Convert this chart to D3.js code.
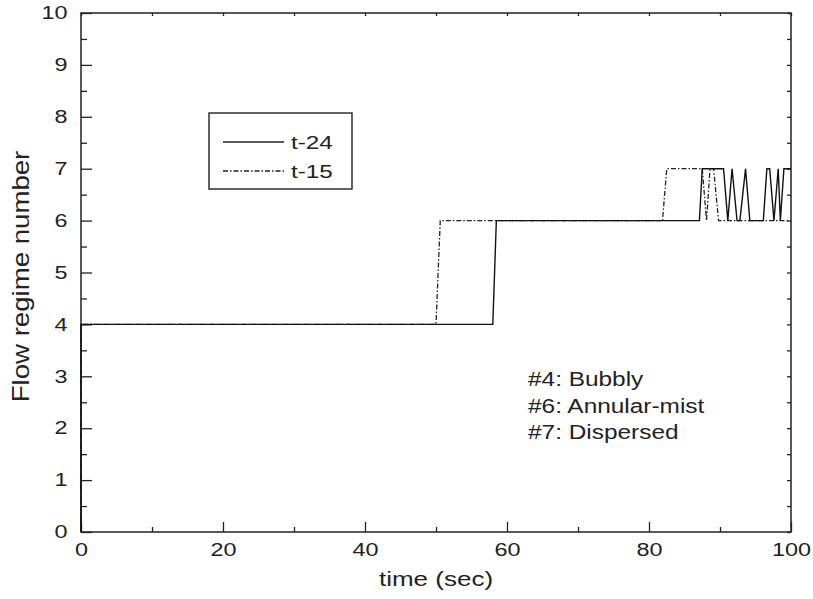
<!DOCTYPE html>
<html>
<head>
<meta charset="utf-8">
<script src="https://cdn.jsdelivr.net/npm/d3@7"></script>
<style>
html,body{margin:0;padding:0;background:#fff;}
svg{display:block;}
text{font-family:"Liberation Sans",Arial,Helvetica,sans-serif;fill:#222;}
</style>
</head>
<body>
<svg id="chart" width="813" height="599"></svg>
<script>
// ---- data ----
const t24Time   = [0, 0, 58.0, 58.5, 87.1, 87.5, 90.5, 91.1, 91.7, 92.4, 92.8, 93.6, 94.2, 96.1, 96.6, 97.0, 97.6, 98.2, 98.5, 99.0, 100];
const t24Regime = [0, 4, 4,    6,    6,    7,    7,    6,    7,    6,    6,    7,    6,    6,    7,    7,    6,    7,    6,    7,    7];
const t15Time   = [0, 0, 50.0, 50.6, 81.9, 82.5, 87.5, 88.1, 88.6, 89.1, 89.8, 100];
const t15Regime = [0, 4, 4,    6,    6,    7,    7,    6,    7,    7,    6,    6];
const seriesNames = ["t-24", "t-15"];
const xTickLabels = [0, 20, 40, 60, 80, 100];
const xMinorTicks = [10, 30, 50, 70, 90];
const yTickLabels = [0,1,2,3,4,5,6,7,8,9,10];
const yMinorTicks = [0.5,1.5,2.5,3.5,4.5,5.5,6.5,7.5,8.5,9.5];
const notes = ["#4: Bubbly", "#6: Annular-mist", "#7: Dispersed"];
const xTitle = "time (sec)";
const yTitle = "Flow regime number";

// ---- layout ----
const L = 81, R = 791, T = 13, B = 532;
const svg = d3.select("#chart");
const x = d3.scaleLinear().domain([0, 100]).range([L, R]);
const y = d3.scaleLinear().domain([0, 10]).range([B, T]);
const ink = "#222";

// horizontally widen text glyphs (reference font is wide)
function widen(sel, k) {
  sel.each(function () {
    const w = this.getComputedTextLength();
    d3.select(this).attr("textLength", w * k).attr("lengthAdjust", "spacingAndGlyphs");
  });
}

// frame
svg.append("rect").attr("x", L).attr("y", T).attr("width", R - L).attr("height", B - T)
  .attr("fill", "none").attr("stroke", ink).attr("stroke-width", 1.5);

// bottom axis (ticks inward)
const gx = svg.append("g").attr("transform", `translate(0,${B})`)
  .call(d3.axisBottom(x).tickValues(xTickLabels).tickSize(-10).tickPadding(14).tickFormat(d3.format("d")));
svg.append("g").attr("transform", `translate(0,${B})`)
  .call(d3.axisBottom(x).tickValues(xMinorTicks).tickSize(-5).tickFormat(""));
svg.append("g").attr("transform", `translate(0,${T})`)
  .call(d3.axisTop(x).tickValues(xTickLabels.concat(xMinorTicks)).tickSize(-3).tickFormat(""));

// left axis
const gy = svg.append("g").attr("transform", `translate(${L},0)`)
  .call(d3.axisLeft(y).tickValues(yTickLabels).tickSize(-11).tickPadding(13.5).tickFormat(d3.format("d")));
svg.append("g").attr("transform", `translate(${L},0)`)
  .call(d3.axisLeft(y).tickValues(yMinorTicks).tickSize(-6).tickFormat(""));
svg.append("g").attr("transform", `translate(${R},0)`)
  .call(d3.axisRight(y).tickValues(yTickLabels.concat(yMinorTicks)).tickSize(-4).tickFormat(""));

svg.selectAll(".domain").remove();
svg.selectAll(".tick line").attr("stroke", ink).attr("stroke-width", 1.3);
svg.selectAll(".tick text").attr("font-size", 18).attr("fill", ink)
  .attr("font-family", '"Liberation Sans",Arial,sans-serif');
gx.selectAll(".tick text").attr("dy", "0.55em");
widen(gx.selectAll(".tick text"), 1.3);
widen(gy.selectAll(".tick text"), 1.3);

// axis titles
const xt = svg.append("text").attr("x", (L + R) / 2).attr("y", 586).attr("text-anchor", "middle")
  .attr("font-size", 20).text(xTitle);
widen(xt, 1.3);
const yt = svg.append("text").attr("transform", `translate(29,${(T + B) / 2 + 4}) rotate(-90)`)
  .attr("text-anchor", "middle").attr("font-size", 24).text(yTitle);
widen(yt, 1.15);

// lines
const line = d3.line().x(d => x(d[0])).y(d => y(d[1]));
const d24 = t24Time.map((t, i) => [t, t24Regime[i]]);
const d15 = t15Time.map((t, i) => [t, t15Regime[i]]);
const dashes = [null, "5,2,1.5,2"];
svg.append("path").datum(d15).attr("d", line).attr("fill", "none")
  .attr("stroke", ink).attr("stroke-width", 1.3).attr("stroke-dasharray", dashes[1]);
svg.append("path").datum(d24).attr("d", line).attr("fill", "none")
  .attr("stroke", "#111").attr("stroke-width", 1.4);

// legend
const lg = svg.append("g");
lg.append("rect").attr("x", 209).attr("y", 113).attr("width", 143).attr("height", 76)
  .attr("fill", "#fff").attr("stroke", ink).attr("stroke-width", 1.4);
seriesNames.forEach((name, i) => {
  const yy = 142 + i * 29;
  lg.append("line").attr("x1", 223).attr("x2", 284).attr("y1", yy).attr("y2", yy)
    .attr("stroke", ink).attr("stroke-width", 1.3).attr("stroke-dasharray", dashes[i]);
  const t = lg.append("text").attr("x", 291).attr("y", yy + 6.5).attr("font-size", 18).text(name);
  widen(t, 1.35);
});

// notes
notes.forEach((n, i) => {
  const t = svg.append("text").attr("x", 528).attr("y", 386 + i * 26.5).attr("font-size", 20).text(n);
  widen(t, 1.22);
});
</script>
</body>
</html>
